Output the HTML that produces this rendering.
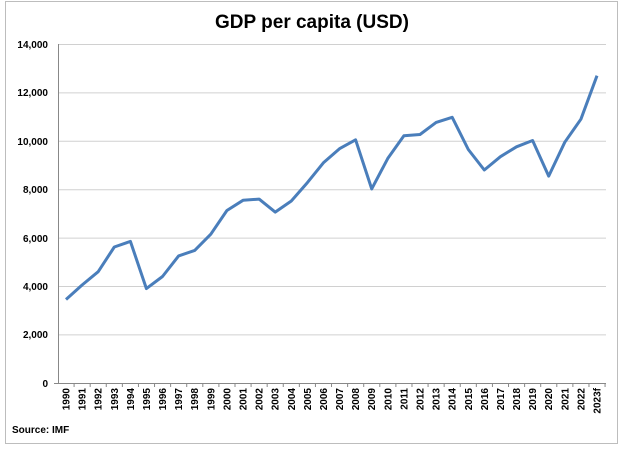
<!DOCTYPE html>
<html><head><style>body{margin:0;background:#fff}</style></head><body>
<svg width="624" height="449" xmlns="http://www.w3.org/2000/svg" font-family="Liberation Sans, Arial, sans-serif">
<rect x="5.5" y="1.5" width="612" height="442" fill="#fff" stroke="#bdbdbd" stroke-width="1"/>
<text x="312" y="28" text-anchor="middle" font-size="19" font-weight="bold">GDP per capita (USD)</text>
<g stroke="#d0d0d0" stroke-width="1">
<line x1="58" x2="606" y1="44.5" y2="44.5"/><line x1="58" x2="606" y1="92.9" y2="92.9"/>
<line x1="58" x2="606" y1="141.3" y2="141.3"/><line x1="58" x2="606" y1="189.7" y2="189.7"/>
<line x1="58" x2="606" y1="238.1" y2="238.1"/><line x1="58" x2="606" y1="286.5" y2="286.5"/>
<line x1="58" x2="606" y1="334.9" y2="334.9"/>
</g>
<g font-size="10" font-weight="bold" text-anchor="end">
<text x="48" y="48">14,000</text><text x="48" y="96">12,000</text><text x="48" y="145">10,000</text>
<text x="48" y="193">8,000</text><text x="48" y="242">6,000</text><text x="48" y="290">4,000</text>
<text x="48" y="338">2,000</text><text x="48" y="387">0</text>
</g>
<line x1="58.5" y1="44" x2="58.5" y2="383" stroke="#888"/>
<line x1="54" y1="383.5" x2="606" y2="383.5" stroke="#888"/>
<g id="lab"></g>
<polyline id="ln" fill="none" stroke="#4a7ebb" stroke-width="3" stroke-linejoin="round"/>
<text x="12" y="433" font-size="10" font-weight="bold">Source: IMF</text>
</svg>
<script>
var v=[3450,4050,4600,5620,5850,3900,4400,5250,5480,6150,7130,7550,7600,7060,7520,8280,9100,9680,10050,8020,9280,10220,10270,10770,10980,9650,8800,9350,9760,10020,8550,9950,10900,12700];
var w=16.09,pts=[],g=document.getElementById('lab'),ns="http://www.w3.org/2000/svg";
for(var i=0;i<34;i++){var x=66+i*w;pts.push(x.toFixed(1)+","+(383-v[i]*0.0242).toFixed(1));
var t=document.createElementNS(ns,'line');var tx=58+i*w;t.setAttribute('x1',tx+w);t.setAttribute('x2',tx+w);t.setAttribute('y1',383);t.setAttribute('y2',387);t.setAttribute('stroke','#888');g.appendChild(t);
var s=document.createElementNS(ns,'text');s.setAttribute('transform','translate('+(x+3.5)+',388) rotate(-90)');s.setAttribute('text-anchor','end');s.setAttribute('font-size','10');s.setAttribute('font-weight','bold');s.textContent=i==33?'2023f':(1990+i);g.appendChild(s);}
document.getElementById('ln').setAttribute('points',pts.join(' '));
</script>
</body></html>
